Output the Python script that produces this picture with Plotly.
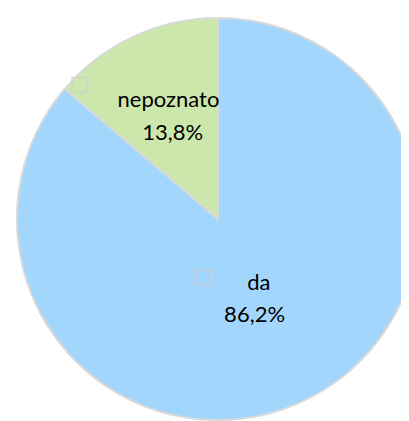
import plotly.graph_objects as go

# ---- data ----
categories = ["da", "nepoznato"]
values = [86.2, 13.8]
value_labels = ["86,2%", "13,8%"]

# ---- styling ----
colors = ["#A3D6FC", "#CCE7AC"]
BASE = 25          # base font size (sets line spacing)
VIS = 22           # visible label font size
NB = "\u00a0"
ZW = "\u200b"
CLEAR = "rgba(0,0,0,0)"


def span(txt, size=VIS, color="#000000", family=None):
    fam = f"font-family:{family};" if family else ""
    return f"<span style='{fam}font-size:{size}px;color:{color}'>{txt}</span>"


def legend_key(raise_size):
    # small outlined square (Excel-style legend key), raised via a scaled <sup>
    sq = span("□", 21, "#CFCFCF", "DejaVu Sans")
    return span(f"<sup>{sq}</sup>{ZW}", raise_size)


# per-label typographic layout
label_style = [
    dict(key_raise=16, gap=6, pad1=10, lpad2=0, rpad2=2, lead=None, trail=10),
    dict(key_raise=40, gap=5, pad1=5, lpad2=5, rpad2=0, lead=38, trail=None),
]

texts = []
for cat, val, st in zip(categories, value_labels, label_style):
    line1 = (legend_key(st["key_raise"]) + span(NB * st["gap"]) + span(cat)
             + span(NB * st["pad1"]))
    line2 = span(NB * st["lpad2"]) + span(val) + span(NB * st["rpad2"])
    lines = [line1, line2]
    if st["lead"]:
        lines.insert(0, span(".", st["lead"], CLEAR))
    if st["trail"]:
        lines.append(span(".", st["trail"], CLEAR))
    texts.append("<br>".join(lines))

fig = go.Figure(
    go.Pie(
        labels=categories,
        values=values,
        text=texts,
        textinfo="text",
        textposition="inside",
        insidetextorientation="horizontal",
        sort=False,
        direction="clockwise",
        rotation=0,
        marker=dict(colors=colors, line=dict(color="#D9D9D9", width=2)),
        textfont=dict(family="Lato, sans-serif", size=BASE, color="#000000"),
        showlegend=False,
        hoverinfo="label+percent",
        domain=dict(x=[0.0214, 0.9786], y=[0.0419, 0.9767]),
    )
)
fig.update_layout(
    width=420,
    height=430,
    margin=dict(l=0, r=0, t=0, b=0),
    paper_bgcolor="white",
    plot_bgcolor="white",
    uniformtext=dict(minsize=BASE, mode="show"),
)
fig.write_html("out.html")
